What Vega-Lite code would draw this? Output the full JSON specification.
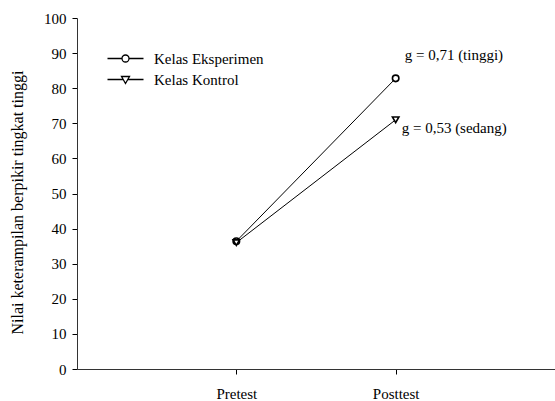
{
  "$schema": "https://vega.github.io/schema/vega-lite/v6.json",
  "width": 478,
  "height": 351,
  "autosize": {"type": "none"},
  "padding": {"left": 77, "top": 18, "right": 0, "bottom": 32},
  "background": "white",
  "config": {
    "view": {"stroke": null},
    "font": "Liberation Serif, Times New Roman, Times, DejaVu Serif, serif",
    "axis": {"grid": false, "labelFont": "Liberation Serif, Times New Roman, Times, DejaVu Serif, serif", "titleFont": "Liberation Serif, Times New Roman, Times, DejaVu Serif, serif", "labelFontSize": 15, "titleFontSize": 16, "titleFontWeight": "normal", "labelColor": "black", "titleColor": "black", "domainColor": "#333", "tickColor": "black", "labelFlush": false}
  },
  "datasets": {
    "scores": [
      {"kelas": "Kelas Eksperimen", "tes": "Pretest", "nilai": 36.4},
      {"kelas": "Kelas Eksperimen", "tes": "Posttest", "nilai": 82.8},
      {"kelas": "Kelas Kontrol", "tes": "Pretest", "nilai": 36.0},
      {"kelas": "Kelas Kontrol", "tes": "Posttest", "nilai": 71.0}
    ],
    "notes": [
      {"kelas": "Kelas Eksperimen", "tes": "Posttest", "nilai": 82.8, "label": "g = 0,71  (tinggi)"},
      {"kelas": "Kelas Kontrol", "tes": "Posttest", "nilai": 71.0, "label": "g = 0,53  (sedang)"}
    ]
  },
  "encoding": {
    "x": {"field": "tes", "type": "nominal", "sort": ["Pretest", "Posttest"],
      "scale": {"type": "point", "domain": ["Pretest", "Posttest"], "padding": 1},
      "axis": {"title": null, "labelAngle": 0, "tickSize": 5, "labelPadding": 12, "domainWidth": 1}},
    "y": {"field": "nilai", "type": "quantitative",
      "scale": {"domain": [0, 100], "nice": false, "zero": true},
      "axis": {"title": "Nilai keterampilan berpikir tingkat tinggi", "values": [0, 10, 20, 30, 40, 50, 60, 70, 80, 90, 100], "tickSize": 5, "labelPadding": 6, "titleX": -60, "titleY": 184, "titleAngle": -90, "titleAlign": "center", "titleBaseline": "middle"}}
  },
  "resolve": {"scale": {"shape": "independent"}, "legend": {"shape": "independent"}},
  "layer": [
    {
      "data": {"name": "scores"},
      "mark": {"type": "line", "color": "black", "strokeWidth": 1},
      "encoding": {"detail": {"field": "kelas"}}
    },
    {
      "data": {"name": "scores"},
      "mark": {"type": "point", "filled": false, "fill": "white", "fillOpacity": 1, "stroke": "black", "strokeWidth": 1.6, "opacity": 1, "size": 42},
      "encoding": {
        "shape": {"field": "kelas", "type": "nominal",
          "scale": {"domain": ["Kelas Eksperimen", "Kelas Kontrol"], "range": ["circle", "triangle-down"]},
          "legend": null}
      }
    },
    {
      "data": {"name": "scores"},
      "transform": [{"filter": "datum.nilai < 0"}],
      "mark": {"type": "point", "filled": false, "stroke": "black", "strokeWidth": 1.3, "opacity": 1},
      "encoding": {
        "shape": {"field": "kelas", "type": "nominal",
          "scale": {"domain": ["Kelas Eksperimen", "Kelas Kontrol"], "range": ["M-3.6,0L-0.7,0M0.7,0L3.6,0M0.7,0A0.7,0.7,0,1,1,-0.7,0A0.7,0.7,0,1,1,0.7,0Z", "M-3.6,0L-0.46,0M0.46,0L3.6,0M-0.8,-0.6L0.8,-0.6L0,0.8Z"]},
          "legend": {
            "title": null, "orient": "none", "legendX": 41, "legendY": 33, "padding": 0,
            "labelFont": "Liberation Serif, Times New Roman, Times, DejaVu Serif, serif", "labelFontSize": 15, "labelColor": "black", "labelOffset": 21,
            "symbolSize": 100, "rowPadding": 5, "symbolStrokeColor": "black", "symbolFillColor": "white", "symbolStrokeWidth": 1.3, "symbolOpacity": 1
          }}
      }
    },
    {
      "data": {"name": "notes"},
      "transform": [{"filter": "datum.kelas === 'Kelas Eksperimen'"}],
      "mark": {"type": "text", "align": "left", "baseline": "middle", "dx": 9, "dy": -23, "fontSize": 15, "font": "Liberation Serif, Times New Roman, Times, DejaVu Serif, serif", "color": "black"},
      "encoding": {"text": {"field": "label"}}
    },
    {
      "data": {"name": "notes"},
      "transform": [{"filter": "datum.kelas === 'Kelas Kontrol'"}],
      "mark": {"type": "text", "align": "left", "baseline": "middle", "dx": 6, "dy": 8, "fontSize": 15, "font": "Liberation Serif, Times New Roman, Times, DejaVu Serif, serif", "color": "black"},
      "encoding": {"text": {"field": "label"}}
    }
  ]
}
